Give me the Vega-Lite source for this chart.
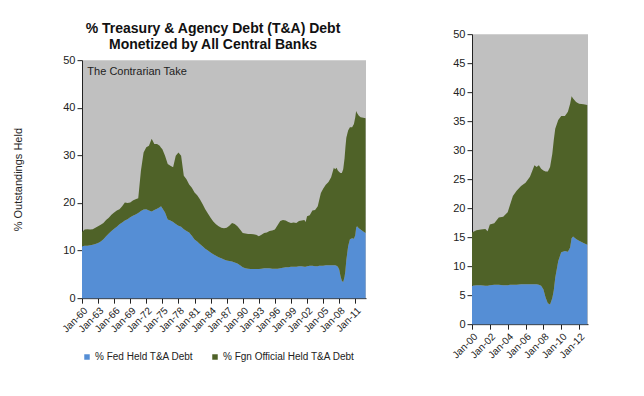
{
  "$schema": "https://vega.github.io/schema/vega-lite/v6.json",
  "background": "#FFFFFF",
  "padding": {"left": 12, "top": 22, "right": 5, "bottom": 5},
  "config": {
    "font": "Liberation Sans",
    "view": {"fill": "#C0C0C0", "stroke": null},
    "axis": {"labelFont": "Liberation Sans", "labelFontSize": 11, "labelColor": "#222222", "domainColor": "#222222", "tickColor": "#222222", "grid": false, "titleFont": "Liberation Sans", "titleFontWeight": "normal", "titleFontSize": 11, "titleColor": "#222222", "tickSize": 5},
    "axisX": {"labelOverlap": false, "labelFontSize": 10, "labelAngle": -45, "labelPadding": 2},
    "legend": {"labelFont": "Liberation Sans", "labelFontSize": 10, "labelColor": "#222222"}
  },
  "datasets": {
    "debt": [
      {"date": "1960-01-01", "fed": 10.9, "fgn": 3.0},
      {"date": "1960-07-01", "fed": 11.0, "fgn": 3.4},
      {"date": "1961-01-01", "fed": 11.0, "fgn": 3.5},
      {"date": "1961-07-01", "fed": 11.1, "fgn": 3.3},
      {"date": "1962-01-01", "fed": 11.2, "fgn": 3.3},
      {"date": "1962-07-01", "fed": 11.4, "fgn": 3.4},
      {"date": "1963-01-01", "fed": 11.6, "fgn": 3.5},
      {"date": "1963-07-01", "fed": 11.9, "fgn": 3.5},
      {"date": "1964-01-01", "fed": 12.4, "fgn": 3.4},
      {"date": "1964-07-01", "fed": 13.0, "fgn": 3.4},
      {"date": "1965-01-01", "fed": 13.6, "fgn": 3.3},
      {"date": "1965-07-01", "fed": 14.1, "fgn": 3.4},
      {"date": "1966-01-01", "fed": 14.6, "fgn": 3.4},
      {"date": "1966-07-01", "fed": 15.0, "fgn": 3.4},
      {"date": "1967-01-01", "fed": 15.5, "fgn": 3.2},
      {"date": "1967-07-01", "fed": 15.9, "fgn": 3.4},
      {"date": "1968-01-01", "fed": 16.3, "fgn": 3.8},
      {"date": "1968-07-01", "fed": 16.6, "fgn": 3.4},
      {"date": "1969-01-01", "fed": 17.0, "fgn": 3.1},
      {"date": "1969-07-01", "fed": 17.3, "fgn": 3.2},
      {"date": "1970-01-01", "fed": 17.6, "fgn": 3.2},
      {"date": "1970-07-01", "fed": 17.9, "fgn": 3.1},
      {"date": "1971-01-01", "fed": 18.3, "fgn": 8.5},
      {"date": "1971-07-01", "fed": 18.6, "fgn": 12.0},
      {"date": "1972-01-01", "fed": 18.7, "fgn": 13.0},
      {"date": "1972-07-01", "fed": 18.4, "fgn": 13.6},
      {"date": "1973-01-01", "fed": 18.2, "fgn": 15.3},
      {"date": "1973-07-01", "fed": 18.5, "fgn": 13.9},
      {"date": "1974-01-01", "fed": 18.8, "fgn": 13.6},
      {"date": "1974-07-01", "fed": 19.1, "fgn": 12.9},
      {"date": "1974-10-01", "fed": 19.3, "fgn": 12.3},
      {"date": "1975-01-01", "fed": 18.9, "fgn": 12.4},
      {"date": "1975-07-01", "fed": 18.0, "fgn": 11.9},
      {"date": "1976-01-01", "fed": 16.5, "fgn": 11.7},
      {"date": "1976-07-01", "fed": 16.3, "fgn": 11.5},
      {"date": "1977-01-01", "fed": 16.0, "fgn": 11.5},
      {"date": "1977-07-01", "fed": 15.6, "fgn": 14.3},
      {"date": "1978-01-01", "fed": 15.2, "fgn": 15.4},
      {"date": "1978-07-01", "fed": 15.0, "fgn": 14.9},
      {"date": "1979-01-01", "fed": 14.5, "fgn": 11.2},
      {"date": "1979-07-01", "fed": 14.1, "fgn": 10.9},
      {"date": "1980-01-01", "fed": 13.8, "fgn": 10.1},
      {"date": "1980-07-01", "fed": 13.1, "fgn": 10.1},
      {"date": "1981-01-01", "fed": 12.3, "fgn": 9.9},
      {"date": "1981-07-01", "fed": 11.9, "fgn": 9.7},
      {"date": "1982-01-01", "fed": 11.4, "fgn": 9.4},
      {"date": "1982-07-01", "fed": 10.9, "fgn": 8.9},
      {"date": "1983-01-01", "fed": 10.4, "fgn": 8.3},
      {"date": "1983-07-01", "fed": 10.0, "fgn": 7.8},
      {"date": "1984-01-01", "fed": 9.6, "fgn": 7.3},
      {"date": "1984-07-01", "fed": 9.2, "fgn": 6.9},
      {"date": "1985-01-01", "fed": 8.9, "fgn": 6.6},
      {"date": "1985-07-01", "fed": 8.6, "fgn": 6.5},
      {"date": "1986-01-01", "fed": 8.4, "fgn": 6.4},
      {"date": "1986-07-01", "fed": 8.1, "fgn": 6.6},
      {"date": "1987-01-01", "fed": 7.9, "fgn": 6.9},
      {"date": "1987-07-01", "fed": 7.8, "fgn": 7.4},
      {"date": "1988-01-01", "fed": 7.7, "fgn": 8.1},
      {"date": "1988-07-01", "fed": 7.5, "fgn": 8.1},
      {"date": "1989-01-01", "fed": 7.3, "fgn": 7.8},
      {"date": "1989-07-01", "fed": 6.9, "fgn": 7.5},
      {"date": "1990-01-01", "fed": 6.5, "fgn": 7.2},
      {"date": "1990-07-01", "fed": 6.3, "fgn": 7.3},
      {"date": "1991-01-01", "fed": 6.2, "fgn": 7.3},
      {"date": "1991-07-01", "fed": 6.1, "fgn": 7.4},
      {"date": "1992-01-01", "fed": 6.1, "fgn": 7.3},
      {"date": "1992-07-01", "fed": 6.1, "fgn": 7.2},
      {"date": "1993-01-01", "fed": 6.1, "fgn": 6.9},
      {"date": "1993-07-01", "fed": 6.2, "fgn": 7.1},
      {"date": "1994-01-01", "fed": 6.3, "fgn": 7.4},
      {"date": "1994-07-01", "fed": 6.3, "fgn": 7.5},
      {"date": "1995-01-01", "fed": 6.3, "fgn": 7.8},
      {"date": "1995-07-01", "fed": 6.2, "fgn": 8.0},
      {"date": "1996-01-01", "fed": 6.2, "fgn": 8.2},
      {"date": "1996-07-01", "fed": 6.2, "fgn": 9.1},
      {"date": "1997-01-01", "fed": 6.3, "fgn": 9.9},
      {"date": "1997-07-01", "fed": 6.4, "fgn": 10.0},
      {"date": "1998-01-01", "fed": 6.5, "fgn": 9.8},
      {"date": "1998-07-01", "fed": 6.5, "fgn": 9.5},
      {"date": "1999-01-01", "fed": 6.6, "fgn": 9.2},
      {"date": "1999-07-01", "fed": 6.6, "fgn": 9.3},
      {"date": "2000-01-01", "fed": 6.6, "fgn": 9.2},
      {"date": "2000-07-01", "fed": 6.7, "fgn": 9.5},
      {"date": "2001-01-01", "fed": 6.7, "fgn": 9.6},
      {"date": "2001-07-01", "fed": 6.6, "fgn": 9.8},
      {"date": "2001-10-01", "fed": 6.6, "fgn": 9.4},
      {"date": "2002-01-01", "fed": 6.7, "fgn": 10.5},
      {"date": "2002-07-01", "fed": 6.8, "fgn": 10.6},
      {"date": "2003-01-01", "fed": 6.8, "fgn": 11.6},
      {"date": "2003-07-01", "fed": 6.7, "fgn": 11.8},
      {"date": "2004-01-01", "fed": 6.7, "fgn": 12.6},
      {"date": "2004-04-01", "fed": 6.8, "fgn": 13.7},
      {"date": "2004-08-01", "fed": 6.8, "fgn": 15.3},
      {"date": "2005-01-01", "fed": 6.8, "fgn": 16.2},
      {"date": "2005-07-01", "fed": 6.9, "fgn": 16.9},
      {"date": "2006-01-01", "fed": 6.9, "fgn": 17.5},
      {"date": "2006-07-01", "fed": 6.9, "fgn": 18.5},
      {"date": "2007-01-01", "fed": 6.9, "fgn": 20.5},
      {"date": "2007-04-01", "fed": 6.9, "fgn": 20.2},
      {"date": "2007-07-01", "fed": 6.8, "fgn": 20.6},
      {"date": "2007-10-01", "fed": 6.6, "fgn": 20.2},
      {"date": "2008-01-01", "fed": 6.0, "fgn": 20.5},
      {"date": "2008-04-01", "fed": 4.6, "fgn": 21.7},
      {"date": "2008-07-01", "fed": 3.6, "fgn": 22.7},
      {"date": "2008-10-01", "fed": 3.4, "fgn": 23.7},
      {"date": "2009-01-01", "fed": 4.5, "fgn": 24.9},
      {"date": "2009-03-01", "fed": 5.8, "fgn": 25.9},
      {"date": "2009-05-01", "fed": 8.0, "fgn": 25.7},
      {"date": "2009-09-01", "fed": 10.9, "fgn": 24.3},
      {"date": "2010-01-01", "fed": 12.4, "fgn": 23.5},
      {"date": "2010-06-01", "fed": 12.6, "fgn": 23.3},
      {"date": "2010-10-01", "fed": 12.5, "fgn": 24.1},
      {"date": "2011-01-01", "fed": 13.2, "fgn": 24.8},
      {"date": "2011-03-01", "fed": 14.8, "fgn": 24.5},
      {"date": "2011-05-01", "fed": 15.1, "fgn": 23.8},
      {"date": "2011-09-01", "fed": 14.7, "fgn": 23.6},
      {"date": "2012-01-01", "fed": 14.4, "fgn": 23.6},
      {"date": "2012-07-01", "fed": 14.0, "fgn": 23.9},
      {"date": "2012-12-01", "fed": 13.7, "fgn": 24.1}
    ]
  },
  "hconcat": [
    {
      "width": 284,
      "height": 238,
      "title": {"text": ["% Treasury & Agency Debt (T&A) Debt", "Monetized by All Central Banks"], "font": "Liberation Sans", "fontSize": 14, "fontWeight": "bold", "color": "#111111", "anchor": "middle", "offset": 2, "lineHeight": 16, "dx": -11},
      "layer": [
        {
          "data": {"values": [{"label": "The Contrarian Take"}]},
          "mark": {"type": "text", "align": "left", "baseline": "middle", "fontSize": 11, "color": "#222222", "font": "Liberation Sans"},
          "encoding": {
            "x": {"datum": {"year": 1961, "month": 1, "date": 1, "utc": true}, "type": "temporal", "scale": {"type": "utc", "domain": [{"year": 1960, "month": 1, "date": 1, "utc": true}, {"year": 2013, "month": 1, "date": 1, "utc": true}], "nice": false},
              "axis": {"title": null, "format": "%b-%y", "labelAngle": -45, "labelFontSize": 10, "labelOverlap": false, "labelPadding": 2, "values": [
                {"year": 1960, "month": 1, "date": 1, "utc": true}, {"year": 1963, "month": 1, "date": 1, "utc": true}, {"year": 1966, "month": 1, "date": 1, "utc": true}, {"year": 1969, "month": 1, "date": 1, "utc": true}, {"year": 1972, "month": 1, "date": 1, "utc": true}, {"year": 1975, "month": 1, "date": 1, "utc": true}, {"year": 1978, "month": 1, "date": 1, "utc": true}, {"year": 1981, "month": 1, "date": 1, "utc": true}, {"year": 1984, "month": 1, "date": 1, "utc": true}, {"year": 1987, "month": 1, "date": 1, "utc": true}, {"year": 1990, "month": 1, "date": 1, "utc": true}, {"year": 1993, "month": 1, "date": 1, "utc": true}, {"year": 1996, "month": 1, "date": 1, "utc": true}, {"year": 1999, "month": 1, "date": 1, "utc": true}, {"year": 2002, "month": 1, "date": 1, "utc": true}, {"year": 2005, "month": 1, "date": 1, "utc": true}, {"year": 2008, "month": 1, "date": 1, "utc": true}, {"year": 2011, "month": 1, "date": 1, "utc": true}]}},
            "y": {"datum": 47.5, "type": "quantitative", "scale": {"domain": [0, 50], "nice": false}, "axis": {"title": "% Outstandings Held", "values": [0, 10, 20, 30, 40, 50], "titlePadding": 39}},
            "text": {"field": "label"}
          }
        },
        {
          "data": {"name": "debt"},
          "transform": [
            {"fold": ["fed", "fgn"], "as": ["key", "value"]},
            {"lookup": "key", "from": {"data": {"values": [{"key": "fed", "series": "% Fed Held T&A Debt", "rank": 1}, {"key": "fgn", "series": "% Fgn Official Held T&A Debt", "rank": 2}]}, "key": "key", "fields": ["series", "rank"]}}
          ],
          "mark": {"type": "area", "interpolate": "linear"},
          "encoding": {
            "x": {"field": "date", "type": "temporal", "scale": {"type": "utc", "domain": [{"year": 1960, "month": 1, "date": 1, "utc": true}, {"year": 2013, "month": 1, "date": 1, "utc": true}], "nice": false},
              "axis": {"title": null, "format": "%b-%y", "labelAngle": -45, "labelFontSize": 10, "labelOverlap": false, "labelPadding": 2, "values": [
                {"year": 1960, "month": 1, "date": 1, "utc": true}, {"year": 1963, "month": 1, "date": 1, "utc": true}, {"year": 1966, "month": 1, "date": 1, "utc": true}, {"year": 1969, "month": 1, "date": 1, "utc": true}, {"year": 1972, "month": 1, "date": 1, "utc": true}, {"year": 1975, "month": 1, "date": 1, "utc": true}, {"year": 1978, "month": 1, "date": 1, "utc": true}, {"year": 1981, "month": 1, "date": 1, "utc": true}, {"year": 1984, "month": 1, "date": 1, "utc": true}, {"year": 1987, "month": 1, "date": 1, "utc": true}, {"year": 1990, "month": 1, "date": 1, "utc": true}, {"year": 1993, "month": 1, "date": 1, "utc": true}, {"year": 1996, "month": 1, "date": 1, "utc": true}, {"year": 1999, "month": 1, "date": 1, "utc": true}, {"year": 2002, "month": 1, "date": 1, "utc": true}, {"year": 2005, "month": 1, "date": 1, "utc": true}, {"year": 2008, "month": 1, "date": 1, "utc": true}, {"year": 2011, "month": 1, "date": 1, "utc": true}]}},
            "y": {"field": "value", "type": "quantitative", "stack": "zero", "scale": {"domain": [0, 50], "nice": false}, "axis": {"title": "% Outstandings Held", "values": [0, 10, 20, 30, 40, 50], "titlePadding": 39}},
            "color": {"field": "series", "type": "nominal", "scale": {"domain": ["% Fed Held T&A Debt", "% Fgn Official Held T&A Debt"], "range": ["#558ED5", "#4F6228"]},
              "legend": {"title": null, "orient": "bottom", "direction": "horizontal", "symbolType": "square", "symbolSize": 30, "labelOffset": 3, "columnPadding": 16, "offset": -8}},
            "order": {"field": "rank", "type": "quantitative"}
          }
        }
      ]
    },
    {
      "width": 116,
      "height": 290,
      "data": {"name": "debt"},
      "transform": [
        {"filter": "year(datum.date) >= 2000"},
        {"fold": ["fed", "fgn"], "as": ["key", "value"]},
        {"lookup": "key", "from": {"data": {"values": [{"key": "fed", "series": "% Fed Held T&A Debt", "rank": 1}, {"key": "fgn", "series": "% Fgn Official Held T&A Debt", "rank": 2}]}, "key": "key", "fields": ["series", "rank"]}}
      ],
      "mark": {"type": "area", "interpolate": "linear"},
      "encoding": {
        "x": {"field": "date", "type": "temporal", "scale": {"type": "utc", "domain": [{"year": 2000, "month": 1, "date": 1, "utc": true}, {"year": 2013, "month": 1, "date": 1, "utc": true}], "nice": false},
          "axis": {"title": null, "format": "%b-%y", "labelAngle": -45, "labelFontSize": 10, "labelOverlap": false, "labelPadding": 2, "values": [
            {"year": 2000, "month": 1, "date": 1, "utc": true}, {"year": 2002, "month": 1, "date": 1, "utc": true}, {"year": 2004, "month": 1, "date": 1, "utc": true}, {"year": 2006, "month": 1, "date": 1, "utc": true}, {"year": 2008, "month": 1, "date": 1, "utc": true}, {"year": 2010, "month": 1, "date": 1, "utc": true}, {"year": 2012, "month": 1, "date": 1, "utc": true}]}},
        "y": {"field": "value", "type": "quantitative", "stack": "zero", "scale": {"domain": [0, 50], "nice": false}, "axis": {"title": null, "values": [0, 5, 10, 15, 20, 25, 30, 35, 40, 45, 50]}},
        "color": {"field": "series", "type": "nominal", "scale": {"domain": ["% Fed Held T&A Debt", "% Fgn Official Held T&A Debt"], "range": ["#558ED5", "#4F6228"]}, "legend": null},
        "order": {"field": "rank", "type": "quantitative"}
      }
    }
  ],
  "spacing": 84,
  "center": true,
  "resolve": {"scale": {"x": "independent", "y": "independent", "color": "shared"}}
}
